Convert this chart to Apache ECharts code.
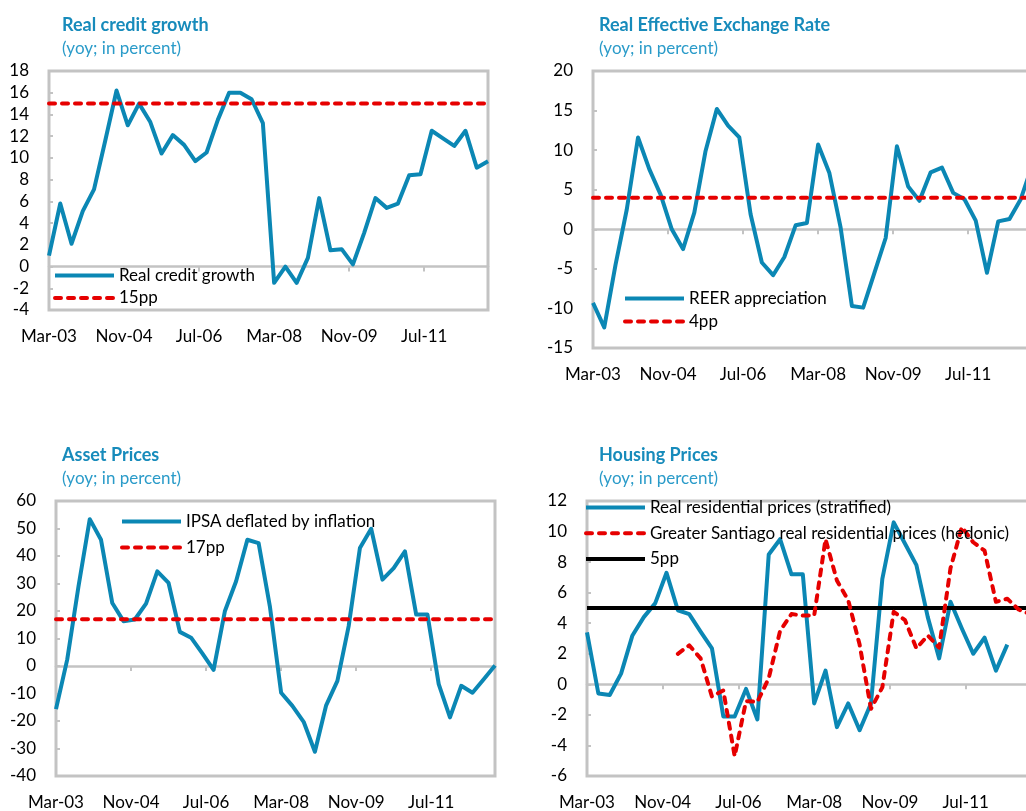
<!DOCTYPE html>
<html>
<head>
<meta charset="utf-8">
<script src="https://cdn.jsdelivr.net/npm/echarts@6/dist/echarts.min.js"></script>
<style>
  html, body { margin: 0; padding: 0; background: #fff; overflow: hidden; }
  #main { width: 1040px; height: 811px; }
</style>
</head>
<body>
<div id="main"></div>
<script>
// quarterly observations, Mar-03 .. Dec-12
var quarters = [
  'Mar-03','Jun-03','Sep-03','Dec-03','Mar-04','Jun-04','Sep-04','Dec-04',
  'Mar-05','Jun-05','Sep-05','Dec-05','Mar-06','Jun-06','Sep-06','Dec-06',
  'Mar-07','Jun-07','Sep-07','Dec-07','Mar-08','Jun-08','Sep-08','Dec-08',
  'Mar-09','Jun-09','Sep-09','Dec-09','Mar-10','Jun-10','Sep-10','Dec-10',
  'Mar-11','Jun-11','Sep-11','Dec-11','Mar-12','Jun-12','Sep-12','Dec-12'
];
var tickLabels = ['Mar-03', 'Nov-04', 'Jul-06', 'Mar-08', 'Nov-09', 'Jul-11'];

var creditGrowth = [1.0, 5.8, 2.1, 5.1, 7.1, 11.6, 16.2, 13.0, 15.0, 13.3,
  10.4, 12.1, 11.2, 9.7, 10.5, 13.5, 16.0, 16.0, 15.4, 13.2,
  -1.5, 0.0, -1.5, 0.8, 6.3, 1.5, 1.6, 0.2, 3.1, 6.3,
  5.4, 5.8, 8.4, 8.5, 12.5, 11.8, 11.1, 12.5, 9.1, 9.7];
var reerAppreciation = [-9.3, -12.4, -4.5, 2.5, 11.6, 7.6, 4.4, 0.0, -2.5, 2.1,
  9.9, 15.2, 13.1, 11.6, 1.9, -4.2, -5.8, -3.5, 0.5, 0.8,
  10.7, 7.1, 0.2, -9.7, -9.9, -5.5, -1.1, 10.5, 5.4, 3.6,
  7.2, 7.8, 4.6, 3.8, 1.1, -5.5, 1.0, 1.3, 3.8, 8.0];
var ipsaDeflated = [-15.7, 2.4, 29.0, 53.4, 45.9, 22.9, 16.3, 16.9, 22.7, 34.4,
  30.2, 12.4, 10.3, 4.6, -1.4, 19.9, 30.8, 45.9, 44.7, 21.7,
  -9.7, -14.5, -20.3, -31.2, -14.3, -5.4, 14.5, 42.9, 49.9, 31.4,
  35.6, 41.7, 18.7, 18.7, -6.6, -18.7, -7.2, -9.7, -4.8, 0.2];
var housingStratified = [3.4, -0.6, -0.7, 0.7, 3.2, 4.4, 5.3, 7.3, 4.85, 4.6,
  3.45, 2.35, -2.1, -2.1, -0.3, -2.3, 8.5, 9.5, 7.2, 7.2,
  -1.25, 0.9, -2.8, -1.25, -3.0, -1.25, 6.9, 10.6, 9.2, 7.8,
  4.4, 1.7, 5.4, 3.65, 2.0, 3.05, 0.9, 2.6, null, null];
var housingHedonic = [null, null, null, null, null, null, null, null, 2.0, 2.55,
  1.7, -0.8, -0.4, -4.7, -1.1, -1.15, 0.4, 3.5, 4.6, 4.5,
  4.5, 9.5, 6.8, 5.5, 2.6, -1.6, -0.2, 4.75, 4.2, 2.35,
  3.2, 2.4, 7.6, 10.3, 9.3, 8.75, 5.4, 5.6, 4.9, 4.6];

var creditRef = 15, reerRef = 4, ipsaRef = 17, housingRef = 5;

var BLUE = '#0b87b4', RED = '#e60000', GREY = '#c3c3c3';
var TITLE = '#178bbb', SUB = '#2a9bc9';
var FONT = 'Lato';

// x position of each quarter in months since Mar-03
function pts(values) {
  return quarters.map(function (q, i) { return [i * 3, values[i]]; });
}
function flat(v) {
  return quarters.map(function (q, i) { return [i * 3, v]; });
}

var panels = [
  { left: 49, top: 71, width: 439, height: 239, min: -4, max: 18, step: 2,
    title: 'Real credit growth', tx: 62, ty: 16,
    legend: { left: 53, top: 267, gap: 5.5 },
    series: [
      { name: 'Real credit growth', data: pts(creditGrowth), color: BLUE, width: 4 },
      { name: '15pp', data: flat(creditRef), color: RED, width: 4, dash: true }
    ] },
  { left: 593, top: 71, width: 439, height: 277, min: -15, max: 20, step: 5,
    title: 'Real Effective Exchange Rate', tx: 599, ty: 16,
    legend: { left: 623, top: 290, gap: 6 },
    series: [
      { name: 'REER appreciation', data: pts(reerAppreciation), color: BLUE, width: 4 },
      { name: '4pp', data: flat(reerRef), color: RED, width: 4, dash: true }
    ] },
  { left: 56, top: 501, width: 439, height: 277, min: -40, max: 60, step: 10,
    title: 'Asset Prices', tx: 62, ty: 446,
    legend: { left: 120, top: 513, gap: 9 },
    series: [
      { name: 'IPSA deflated by inflation', data: pts(ipsaDeflated), color: BLUE, width: 4 },
      { name: '17pp', data: flat(ipsaRef), color: RED, width: 4, dash: true }
    ] },
  { left: 587, top: 501, width: 443, height: 277, min: -6, max: 12, step: 2,
    title: 'Housing Prices', tx: 599, ty: 446,
    legend: { left: 584, top: 499, gap: 8.7 },
    series: [
      { name: 'Real residential prices (stratified)', data: pts(housingStratified), color: BLUE, width: 4 },
      { name: 'Greater Santiago real residential prices (hedonic)', data: pts(housingHedonic), color: RED, width: 4, dash: true },
      { name: '5pp', data: flat(housingRef), color: '#000', width: 4 }
    ] }
];

var option = {
  animation: false,
  backgroundColor: '#fff',
  title: [], grid: [], xAxis: [], yAxis: [], legend: [], series: []
};

panels.forEach(function (p, g) {
  option.title.push({
    text: p.title, subtext: '(yoy; in percent)',
    left: p.tx, top: p.ty, padding: 0, itemGap: 6,
    textStyle: { fontFamily: FONT, fontSize: 18, fontWeight: 'bold', color: TITLE },
    subtextStyle: { fontFamily: FONT, fontSize: 17, color: SUB }
  });
  option.grid.push({
    left: p.left, top: p.top, width: p.width, height: p.height,
    show: true, borderColor: GREY, borderWidth: 3, backgroundColor: '#fff'
  });
  // label axis along the bottom edge
  option.xAxis.push({
    type: 'value', gridIndex: g, min: 0, max: 117, interval: 20,
    axisLine: { show: false, onZero: false }, axisTick: { show: false },
    splitLine: { show: false },
    axisLabel: {
      margin: 18, fontFamily: FONT, fontSize: 17, color: '#000',
      formatter: function (v) { return tickLabels[Math.round(v / 20)] || ''; }
    }
  });
  // zero line with upward ticks
  option.xAxis.push({
    type: 'value', gridIndex: g, min: 0, max: 117, interval: 20,
    axisLine: { show: true, onZero: true, lineStyle: { color: GREY, width: 2.5 } },
    axisTick: { show: true, inside: true, length: 5, lineStyle: { color: GREY, width: 2 } },
    axisLabel: { show: false }, splitLine: { show: false }
  });
  option.yAxis.push({
    type: 'value', gridIndex: g, min: p.min, max: p.max, interval: p.step,
    axisLine: { show: false },
    axisTick: { show: true, inside: true, length: 4, lineStyle: { color: GREY, width: 2 } },
    splitLine: { show: false },
    axisLabel: { margin: 20, fontFamily: FONT, fontSize: 17, color: '#000' }
  });
  option.legend.push({
    left: p.legend.left, top: p.legend.top, orient: 'vertical',
    itemWidth: 59, itemHeight: 14, itemGap: p.legend.gap, padding: 0,
    selectedMode: false,
    itemStyle: { opacity: 0 },
    lineStyle: { width: 'inherit' },
    textStyle: { fontFamily: FONT, fontSize: 17, color: '#000' },
    data: p.series.map(function (s) { return s.name; })
  });
  p.series.forEach(function (s) {
    option.series.push({
      name: s.name, type: 'line', xAxisIndex: 2 * g, yAxisIndex: g,
      data: s.data, symbol: 'none', connectNulls: false,
      color: s.color,
      lineStyle: {
        color: s.color, width: s.width,
        type: s.dash ? [6, 7] : 'solid', cap: s.dash ? 'round' : 'butt',
        join: 'round'
      },
      z: s.dash ? 3 : 2
    });
  });
});

var chart = echarts.init(document.getElementById('main'));
chart.setOption(option);
</script>
</body>
</html>
